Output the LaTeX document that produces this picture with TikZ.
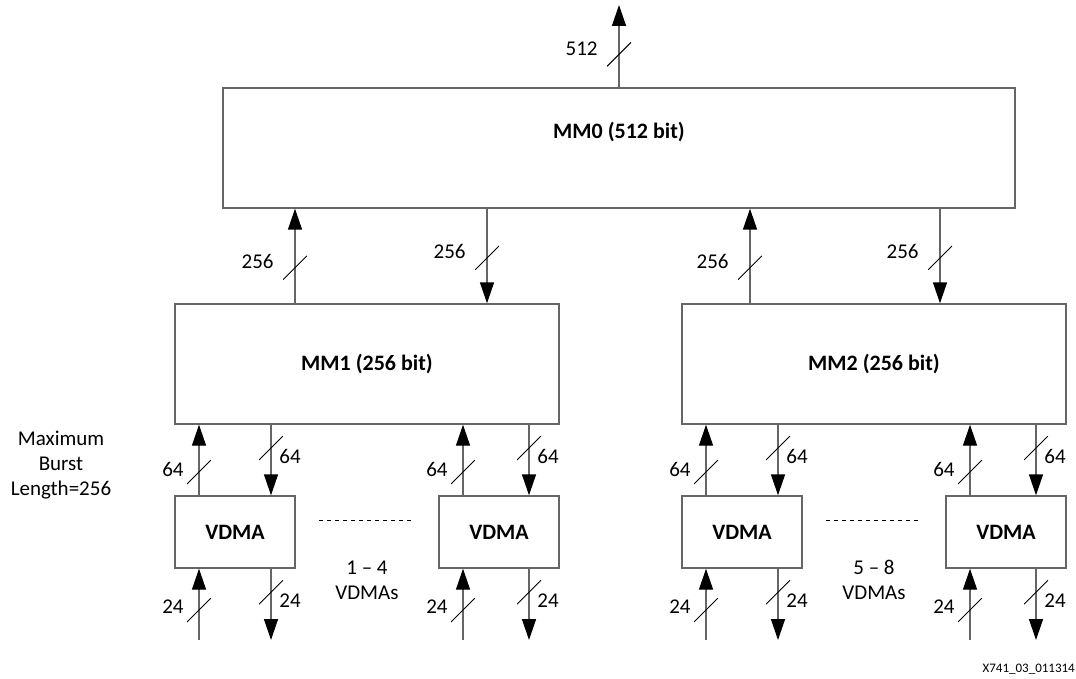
\documentclass[tikz,border=0pt]{standalone}
\usepackage{fontspec}
\setmainfont{Carlito}
\usetikzlibrary{arrows.meta}

\tikzset{
  box/.style={draw=black!60, line width=1.4pt, fill=white, minimum height=120pt, font=\fontsize{22}{26}\selectfont\bfseries},
  vdma/.style={box, minimum width=120pt, minimum height=72pt},
  conn/.style={draw=black!60, line width=1.4pt, -{Triangle[length=21pt,width=14pt,black]}},
  bus/.style={minimum size=24pt, inner sep=0pt, path picture={\draw[-, black, line width=0.9pt] (path picture bounding box.south west) -- (path picture bounding box.north east);}},
  lbl/.style={font=\fontsize{21}{25}\selectfont, inner sep=0pt},
  lab near/.style={label={[lbl, label distance=2pt, yshift=3pt]west:#1}},
  lab far/.style={label={[lbl, label distance=8pt, yshift=6pt]west:#1}},
  lab right/.style={label={[lbl, label distance=-5pt, yshift=-8pt]east:#1}},
  dots/.style={black, line width=0.8pt, dash pattern=on 4pt off 4pt, shorten <=23pt, shorten >=24pt},
}

\begin{document}
\begin{tikzpicture}[x=1pt, y=-1pt]
\useasboundingbox (0,0) rectangle (1076,679);
% memory map blocks
\node[box, minimum width=792pt, label={[font=\fontsize{22}{26}\selectfont\bfseries, yshift=16pt]center:MM0 (512 bit)}] (mm0) at (619,148) {};
\node[box, minimum width=384pt] (mm1) at (367,364) {MM1 (256 bit)};
\node[box, minimum width=384pt] (mm2) at (874,364) {MM2 (256 bit)};
% vdma blocks
\foreach \v/\x in {v1/235, v2/499, v3/742, v4/1006} {
  \node[vdma] (\v) at (\x,532) {VDMA};
}
\coordinate (out) at (619,5);
\draw[conn] (mm0.north) -- node[bus, pos=.4, lab far=512] {} (out);
% MM1/MM2 to MM0
\foreach \m/\up/\dn in {mm1/295/487, mm2/750/940} {
  \draw[conn] (\m.north -| \up,0) -- node[bus, pos=.375, lab far=256] {} (mm0.south -| \up,0);
  \draw[conn] (mm0.south -| \dn,0) -- node[bus, pos=.52, lab far=256] {} (\m.north -| \dn,0);
}
% VDMA to MM1/MM2 and the video streams
\foreach \v/\m/\dx in {v1/mm1/36, v2/mm1/30, v3/mm2/36, v4/mm2/30} {
  \coordinate (\v-in) at ([xshift=-36pt]\v.south |- 0,640);
  \coordinate (\v-out) at ([xshift=\dx pt]\v.south |- 0,640);
  \draw[conn] ([xshift=-36pt]\v.north) -- node[bus, pos=.33, lab near=64] {} ([xshift=-36pt]\v.north |- \m.south);
  \draw[conn] ([xshift=\dx pt]\v.north |- \m.south) -- node[bus, pos=.33, lab right=64] {} ([xshift=\dx pt]\v.north);
  \draw[conn] (\v-in) -- node[bus, pos=.42, lab near=24] {} ([xshift=-36pt]\v.south);
  \draw[conn] ([xshift=\dx pt]\v.south) -- node[bus, pos=.33, lab right=24] {} (\v-out);
}
\draw[dots] ([yshift=12pt]v1.east) -- ([yshift=12pt]v2.west);
\draw[dots] ([yshift=12pt]v3.east) -- ([yshift=12pt]v4.west);
\node[lbl, align=center] (grp1) at (367,580) {1 -- 4\\VDMAs};
\node[lbl, align=center] (grp2) at (874,580) {5 -- 8\\VDMAs};
\node[lbl, align=center, font=\fontsize{21}{25}\selectfont] (burst) at (61,465) {Maximum\\Burst\\Length=256};
\node[anchor=east, inner sep=0pt, font=\fontsize{13}{15}\selectfont] (fig) at (1075,669) {X741\_03\_011314};
\end{tikzpicture}
\end{document}
